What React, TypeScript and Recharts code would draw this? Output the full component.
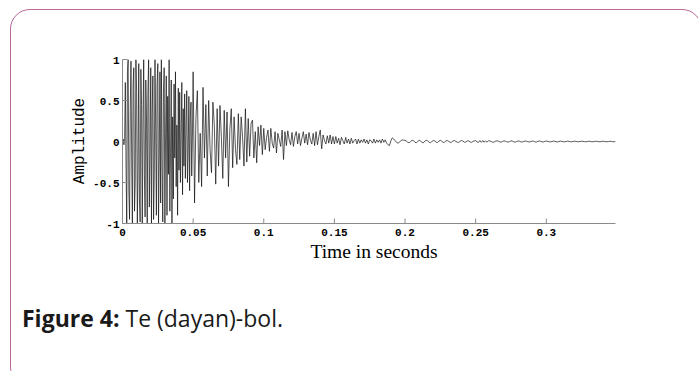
import { LineChart, Line, XAxis, YAxis } from "recharts";

// the attack is read at a finer step than the decay
const ATTACK_DT = 0.0005;
const DECAY_DT = 0.001;
const DECAY_START = 0.05;

// amplitude, attack: 10 samples per row (5 ms)
const attackEarly = [
  0, 0.03, -0.04, 0.02, 0.72, -0.3, -1, 0.85, 1, -0.6,
  -0.95, 0.4, 0.98, -0.2, -1, 0.7, 0.9, -0.85, -0.5, 1,
  0.6, -1, -0.3, 0.95, -0.7, -0.98, 0.88, 0.45, -1, 0.2,
  1, -0.4, -0.92, 0.75, 0.3, -1, 0.6, 1, -0.8, -0.1,
  0.9, -1, 0.35, 0.8, -0.95, -0.4, 1, 0.15, -0.9, 0.7,
];

const attackLate = [
  0.95, -1, -0.2, 0.85, -0.75, 1, -0.3, -0.98, 0.6, 0.9,
  -1, 0.1, 0.8, -0.9, 0.55, -0.4, 1, -0.85, -0.15, 0.75,
  -1, 0.3, -0.7, 0.7, -0.2, 0.85, -0.55, 0.2, -0.9, 0.65,
  -0.35, 0.6, -0.5, 0.1, 0.72, -0.65, 0.4, -0.3, 0.58, -0.45,
  0.2, 0.62, -0.5, -0.1, 0.55, -0.6, 0.3, 0.48, -0.42, 0.05,
];

// decay: 10 samples per row (10 ms), starting at 0.05 s
const decayEarly = [
  0.85, -0.75, 0.3, 0.62, -0.5, 0.1, -0.55, 0.66, -0.2, 0.45,
  -0.42, 0.5, -0.1, -0.38, 0.48, 0.2, -0.52, 0.4, -0.3, 0.44,
  0.05, -0.45, 0.38, -0.2, 0.36, -0.55, 0.15, 0.4, -0.32, 0.3,
  -0.1, -0.28, 0.34, -0.22, 0.3, 0.05, -0.3, 0.4, -0.25, 0.28,
  -0.18, 0.22, 0.26, -0.2, 0.12, -0.26, 0.18, -0.05, 0.2, -0.16,
];

const decayLate = [
  0.16, -0.1, 0.05, 0.14, -0.12, 0.16, -0.02, -0.08, 0.12, -0.14,
  0.1, 0.02, -0.06, 0.14, -0.22, 0.12, -0.05, 0.13, 0.02, -0.04,
  0.11, -0.06, 0.06, 0.12, -0.03, 0.1, -0.05, 0.04, 0.12, -0.02,
  0.09, -0.04, 0.11, 0.02, -0.03, 0.1, -0.05, 0.12, -0.04, 0.06,
  0.14, -0.09, 0.08, 0.01, -0.03, 0.07, -0.02, 0.08, -0.03, 0.06,
];

const tailA = [
  -0.03, 0.06, -0.02, 0.04, -0.04, 0.05, 0.01, -0.03, 0.05, -0.02,
  0.03, -0.03, 0.04, -0.02, 0.01, 0.03, -0.03, 0.03, -0.02, 0.02,
  -0.01, 0.03, -0.02, 0.02, -0.03, 0.02, 0.01, -0.02, 0.03, -0.02,
  0.02, -0.01, 0.02, -0.02, 0.03, -0.01, 0.02, -0.02, -0.04, -0.05,
  0.01, 0.045, 0.03, 0.01, -0.01, -0.02, -0.01, 0.01, 0.02, 0.015,
];

const tailB = [
  0.015, 0.005, -0.01, -0.015, 0, 0.015, 0.01, -0.01, -0.015, 0,
  0.015, 0.008, -0.012, -0.015, 0.005, 0.015, 0.008, -0.008, -0.015, 0,
  0.012, 0.008, -0.008, -0.012, 0.004, 0.015, 0.004, -0.012, -0.008, 0.008,
  0.012, 0, -0.012, -0.008, 0.008, 0.012, 0, -0.008, -0.012, 0.004,
  0.012, 0.004, -0.008, -0.008, 0.008, 0.008, -0.004, -0.012, 0, 0.008,
];

const tailC = [
  0.01, -0.005, -0.01, 0.012, -0.01, 0.012, -0.01, 0.008, -0.008, 0.008,
  0.008, 0, -0.008, -0.008, 0.004, 0.008, 0.004, -0.004, -0.008, 0,
  0.008, 0.004, -0.004, -0.008, 0, 0.008, 0.004, -0.004, -0.008, 0,
  0.006, 0.004, -0.004, -0.006, 0, 0.006, 0.003, -0.003, -0.006, 0,
  0.006, 0.003, -0.005, -0.006, 0.002, 0.006, 0.003, -0.005, -0.005, 0.002,
];

const tailD = [
  0.005, 0.002, -0.003, -0.005, 0, 0.005, 0.002, -0.003, -0.005, 0,
  0.004, 0.002, -0.002, -0.004, 0, 0.004, 0.002, -0.002, -0.004, 0,
  0.004, 0.002, -0.002, -0.003, 0.001, 0.003, 0.002, -0.002, -0.003, 0,
  0.003, 0.002, -0.002, -0.003, 0, 0.003, 0.002, -0.002, -0.003, 0,
  0.003, 0.001, -0.002, -0.003, 0, 0.003, 0.001, -0.002, -0.003, 0,
];

const xTicks = [0, 0.05, 0.1, 0.15, 0.2, 0.25, 0.3];
const yTicks = [-1, -0.5, 0, 0.5, 1];
const xDomain: [number, number] = [0, 0.349];
const yDomain: [number, number] = [-1, 1];

const attack = [...attackEarly, ...attackLate];
const decay = [...decayEarly, ...decayLate, ...tailA, ...tailB, ...tailC, ...tailD];
const data = [
  ...attack.map((y, i) => ({ t: Number((i * ATTACK_DT).toFixed(4)), y })),
  ...decay.map((y, i) => ({ t: Number((DECAY_START + i * DECAY_DT).toFixed(4)), y })),
];

const BOX = "#8a8a8a";
const TICK_LEN = 5;
const tickFont = { fontFamily: "'Liberation Mono', monospace", fontWeight: 700, fontSize: 11, fill: "#000" };

function BottomTick({ x, y, payload }: any) {
  return (
    <g>
      <line x1={x} x2={x} y1={y} y2={y - TICK_LEN} stroke={BOX} />
      <text x={x} y={y + 12} textAnchor="middle" {...tickFont}>{payload.value}</text>
    </g>
  );
}

function TopTick({ x, y }: any) {
  return <line x1={x} x2={x} y1={y} y2={y + TICK_LEN} stroke={BOX} />;
}

function LeftTick({ x, y, payload }: any) {
  return (
    <g>
      <line x1={x} x2={x + TICK_LEN} y1={y} y2={y} stroke={BOX} />
      <text x={x - 3} y={y + 4} textAnchor="end" {...tickFont}>{payload.value}</text>
    </g>
  );
}

function RightTick({ x, y }: any) {
  return <line x1={x} x2={x - TICK_LEN} y1={y} y2={y} stroke={BOX} />;
}

export default function App() {
  return (
    <div style={{ position: "absolute", left: 0, top: 0, width: 698, height: 371, overflow: "hidden", background: "#fff" }}>
      <div
        style={{
          position: "absolute",
          left: 10,
          top: 9,
          width: 690,
          height: 376,
          border: "1.5px solid #b8689b",
          borderRadius: 20,
        }}
      />
      <div style={{ position: "absolute", left: 0, top: 0 }}>
        <LineChart
          width={698}
          height={371}
          data={data}
          margin={{ top: 59.5, right: 82.5, bottom: 117.5, left: 82.5 }}
        >
          <XAxis
            dataKey="t"
            type="number"
            domain={xDomain}
            ticks={xTicks}
            height={30}
            tickSize={0}
            tickMargin={0}
            stroke={BOX}
            tick={<BottomTick />}
            allowDataOverflow
          />
          <XAxis
            xAxisId="top"
            orientation="top"
            dataKey="t"
            type="number"
            domain={xDomain}
            ticks={xTicks}
            height={0}
            tickSize={0}
            tickMargin={0}
            stroke={BOX}
            tick={<TopTick />}
            allowDataOverflow
          />
          <YAxis
            type="number"
            domain={yDomain}
            ticks={yTicks}
            width={40}
            tickSize={0}
            tickMargin={0}
            stroke={BOX}
            tick={<LeftTick />}
            allowDataOverflow
          />
          <YAxis
            yAxisId="right"
            orientation="right"
            type="number"
            domain={yDomain}
            ticks={yTicks}
            width={0}
            tickSize={0}
            tickMargin={0}
            stroke={BOX}
            tick={<RightTick />}
            allowDataOverflow
          />
          <Line
            type="linear"
            dataKey="y"
            stroke="#111"
            strokeWidth={0.7}
            dot={false}
            activeDot={false}
            isAnimationActive={false}
          />
        </LineChart>
      </div>
      <div
        style={{
          position: "absolute",
          left: 80,
          top: 141,
          transform: "translate(-50%, -50%) rotate(-90deg)",
          fontFamily: "'Liberation Mono', monospace",
          fontSize: 16,
          whiteSpace: "nowrap",
          color: "#000",
        }}
      >
        Amplitude
      </div>
      <div
        style={{
          position: "absolute",
          left: 374,
          top: 252,
          transform: "translate(-50%, -50%)",
          fontFamily: "'Liberation Serif', serif",
          fontSize: 19.5,
          whiteSpace: "nowrap",
          color: "#000",
        }}
      >
        Time in seconds
      </div>
      <div
        style={{
          position: "absolute",
          left: 22,
          top: 318,
          transform: "translateY(-50%)",
          fontFamily: "'Open Sans', sans-serif",
          fontSize: 23,
          whiteSpace: "nowrap",
          color: "#1a1a1a",
        }}
      >
        <b style={{ fontWeight: 700 }}>Figure 4:</b> Te (dayan)-bol.
      </div>
    </div>
  );
}
